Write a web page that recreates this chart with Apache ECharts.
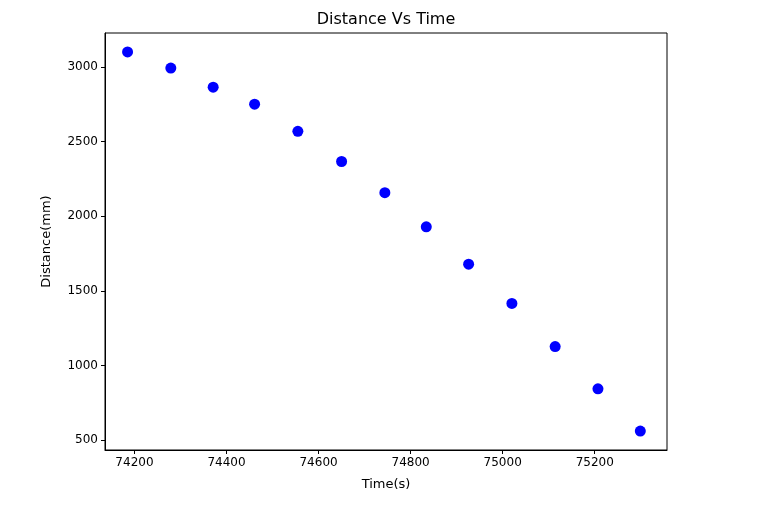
<!DOCTYPE html>
<html><head><meta charset="utf-8">
<script src="https://cdn.jsdelivr.net/npm/echarts@6/dist/echarts.min.js"></script>
<style>html,body{margin:0;padding:0;background:#fff}#c{width:772px;height:517px}</style>
</head><body><div id="c"></div>
<script>
const times = [74185,74279,74371,74461,74555,74650,74744,74834,74926,75020,75114,75207,75299];
const distances = [3101,2993,2865,2751,2569,2367,2158,1929,1679,1416,1127,844,561];
const xTicks = [74200,74400,74600,74800,75000,75200];
const yTicks = [500,1000,1500,2000,2500,3000];
const font = 'DejaVu Sans';
const chart = echarts.init(document.getElementById('c'));
chart.setOption({
  animation:false,
  title:{text:'Distance Vs Time',left:'center',top:7,textStyle:{fontFamily:font,fontSize:16,fontWeight:'normal',color:'#000'}},
  grid:{left:105,right:105,top:33,bottom:67,show:true,borderColor:'#000',borderWidth:1},
  xAxis:{type:'value',min:74136,max:75357,name:'Time(s)',nameLocation:'middle',nameGap:28,
    nameTextStyle:{fontFamily:font,fontSize:13,color:'#000'},
    splitLine:{show:false},axisLine:{show:true,lineStyle:{color:'#000'}},
    axisTick:{show:true,customValues:xTicks,length:4,lineStyle:{color:'#000'}},
    axisLabel:{customValues:xTicks,formatter:v=>String(v),fontFamily:font,fontSize:12,color:'#000',margin:7}},
  yAxis:{type:'value',min:434,max:3228,name:'Distance(mm)',nameLocation:'middle',nameGap:52,
    nameTextStyle:{fontFamily:font,fontSize:13,color:'#000'},
    splitLine:{show:false},axisLine:{show:true,lineStyle:{color:'#000'}},
    axisTick:{show:true,customValues:yTicks,length:4,lineStyle:{color:'#000'}},
    axisLabel:{customValues:yTicks,formatter:v=>String(v),fontFamily:font,fontSize:12,color:'#000',margin:7}},
  series:[{type:'scatter',symbolSize:11,itemStyle:{color:'#0000ff',opacity:1},
    data:times.map((t,i)=>[t,distances[i]])}]
});
</script></body></html>
